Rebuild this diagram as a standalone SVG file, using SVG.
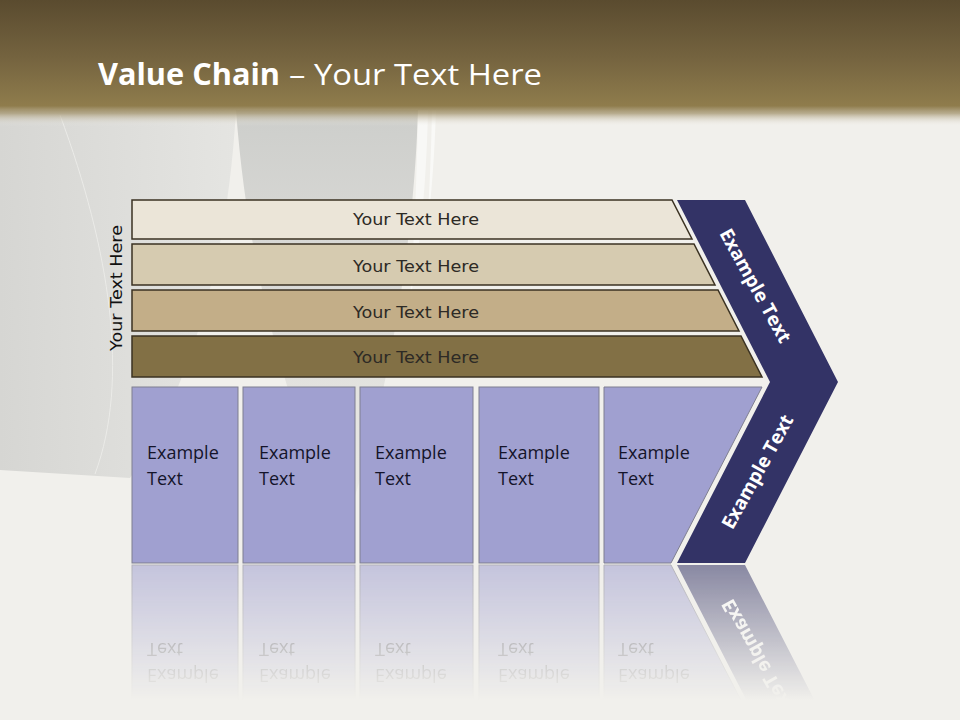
<svg xmlns="http://www.w3.org/2000/svg" xmlns:xlink="http://www.w3.org/1999/xlink" width="960" height="720" viewBox="0 0 960 720">
<defs>
<style>
.band{stroke:#3b3222;stroke-width:1.5}
.bt{font-family:"DejaVu Sans",sans-serif;font-size:16px;fill:#2d2a25;text-anchor:middle}
.box{fill:#a0a0d0;stroke:#7f7f90;stroke-width:1}
.xt{font-family:"Open Sans",sans-serif;font-size:18px;fill:#14142a}
.cv{fill:#333366}
.ct{font-family:"Open Sans",sans-serif;font-weight:bold;font-size:19px;fill:#ffffff;text-anchor:middle}
.title{font-family:"Open Sans",sans-serif;font-size:30px;fill:#ffffff}
</style>
<linearGradient id="hdr" x1="0" y1="0" x2="0" y2="126" gradientUnits="userSpaceOnUse">
<stop offset="0" stop-color="#5a4b2f"/>
<stop offset="0.45" stop-color="#74633f"/>
<stop offset="0.84" stop-color="#8f7c4c"/>
<stop offset="0.9" stop-color="#a89a76" stop-opacity="0.8"/>
<stop offset="1" stop-color="#f1f0ec" stop-opacity="0"/>
</linearGradient>
<linearGradient id="rollL" x1="0" y1="0" x2="240" y2="0" gradientUnits="userSpaceOnUse">
<stop offset="0" stop-color="#d6d6d3"/>
<stop offset="1" stop-color="#e5e5e2"/>
</linearGradient>
<linearGradient id="rollC" x1="0" y1="110" x2="0" y2="540" gradientUnits="userSpaceOnUse">
<stop offset="0" stop-color="#cdcecb"/>
<stop offset="0.3" stop-color="#d8d8d5"/>
<stop offset="1" stop-color="#eeede9"/>
</linearGradient>
<linearGradient id="fade" x1="0" y1="565" x2="0" y2="700" gradientUnits="userSpaceOnUse">
<stop offset="0" stop-color="#ffffff" stop-opacity="0.55"/>
<stop offset="1" stop-color="#ffffff" stop-opacity="0"/>
</linearGradient>
<mask id="reflMask" maskUnits="userSpaceOnUse" x="0" y="560" width="960" height="160">
<rect x="0" y="560" width="960" height="160" fill="url(#fade)"/>
</mask>
</defs>

<g id="background">
<rect x="0" y="0" width="960" height="720" fill="#f1f0ec"/>
<path d="M0,110 L236,110 C228,250 195,380 130,478 L0,470 Z" fill="url(#rollL)"/>
<path d="M236,110 L418,110 C414,250 385,420 340,540 C300,430 250,300 236,110 Z" fill="url(#rollC)"/>
<path d="M418,110 L428,110 C426,200 418,260 410,300 C414,240 417,180 418,110 Z" fill="#f8f8f6"/>
<path d="M432,110 L436,110 C434,170 430,210 426,240 C429,200 431,160 432,110 Z" fill="#f9f9f7"/>
<path d="M60,115 C110,250 130,380 95,474" stroke="#ebebe8" stroke-width="1" fill="none"/>
</g>

<g id="header">
<rect x="0" y="0" width="960" height="126" fill="url(#hdr)"/>
<text class="title" x="98" y="85" font-weight="bold" textLength="182" lengthAdjust="spacingAndGlyphs">Value Chain</text>
<text class="title" x="289" y="85" textLength="253" lengthAdjust="spacingAndGlyphs">– Your Text Here</text>
</g>

<g id="side-label">
<text class="bt" transform="translate(122,288) rotate(-90)" x="0" y="0" style="fill:#111111" textLength="126" lengthAdjust="spacingAndGlyphs">Your Text Here</text>
</g>

<g id="band1">
<polygon class="band" points="132,200 672,200 692,239 132,239" fill="#ebe5d8"/>
<text class="bt" x="416" y="225" textLength="126" lengthAdjust="spacingAndGlyphs">Your Text Here</text>
</g>
<g id="band2">
<polygon class="band" points="132,244 694,244 715,285 132,285" fill="#d6cbb0"/>
<text class="bt" x="416" y="272" textLength="126" lengthAdjust="spacingAndGlyphs">Your Text Here</text>
</g>
<g id="band3">
<polygon class="band" points="132,290 718,290 739,331 132,331" fill="#c3ae88"/>
<text class="bt" x="416" y="318" textLength="126" lengthAdjust="spacingAndGlyphs">Your Text Here</text>
</g>
<g id="band4">
<polygon class="band" points="132,336 741,336 762,377 132,377" fill="#827045"/>
<text class="bt" x="416" y="363" textLength="126" lengthAdjust="spacingAndGlyphs">Your Text Here</text>
</g>

<g id="boxes">
<g id="box1">
<rect class="box" x="132" y="387" width="106" height="176"/>
<text class="xt" x="147" y="459">Example</text>
<text class="xt" x="147" y="485">Text</text>
</g>
<g id="box2">
<rect class="box" x="243" y="387" width="112" height="176"/>
<text class="xt" x="259" y="459">Example</text>
<text class="xt" x="259" y="485">Text</text>
</g>
<g id="box3">
<rect class="box" x="360" y="387" width="113" height="176"/>
<text class="xt" x="375" y="459">Example</text>
<text class="xt" x="375" y="485">Text</text>
</g>
<g id="box4">
<rect class="box" x="479" y="387" width="120" height="176"/>
<text class="xt" x="498" y="459">Example</text>
<text class="xt" x="498" y="485">Text</text>
</g>
<g id="box5">
<polygon class="box" points="604,387 762,387 671,563 604,563"/>
<text class="xt" x="618" y="459">Example</text>
<text class="xt" x="618" y="485">Text</text>
</g>
</g>

<g id="chevron">
<polygon class="cv" points="677,200 745,200 838,382 745,563 677,563 770,382"/>
<text class="ct" transform="translate(755,286) rotate(61)" x="0" y="6">Example Text</text>
<text class="ct" transform="translate(758,472) rotate(-61)" x="0" y="6">Example Text</text>
</g>

<g id="reflection" mask="url(#reflMask)">
<g transform="translate(0,1128) scale(1,-1)">
<use xlink:href="#boxes" href="#boxes"/>
<use xlink:href="#chevron" href="#chevron"/>
</g>
</g>

<g id="connectors"/>
</svg>
